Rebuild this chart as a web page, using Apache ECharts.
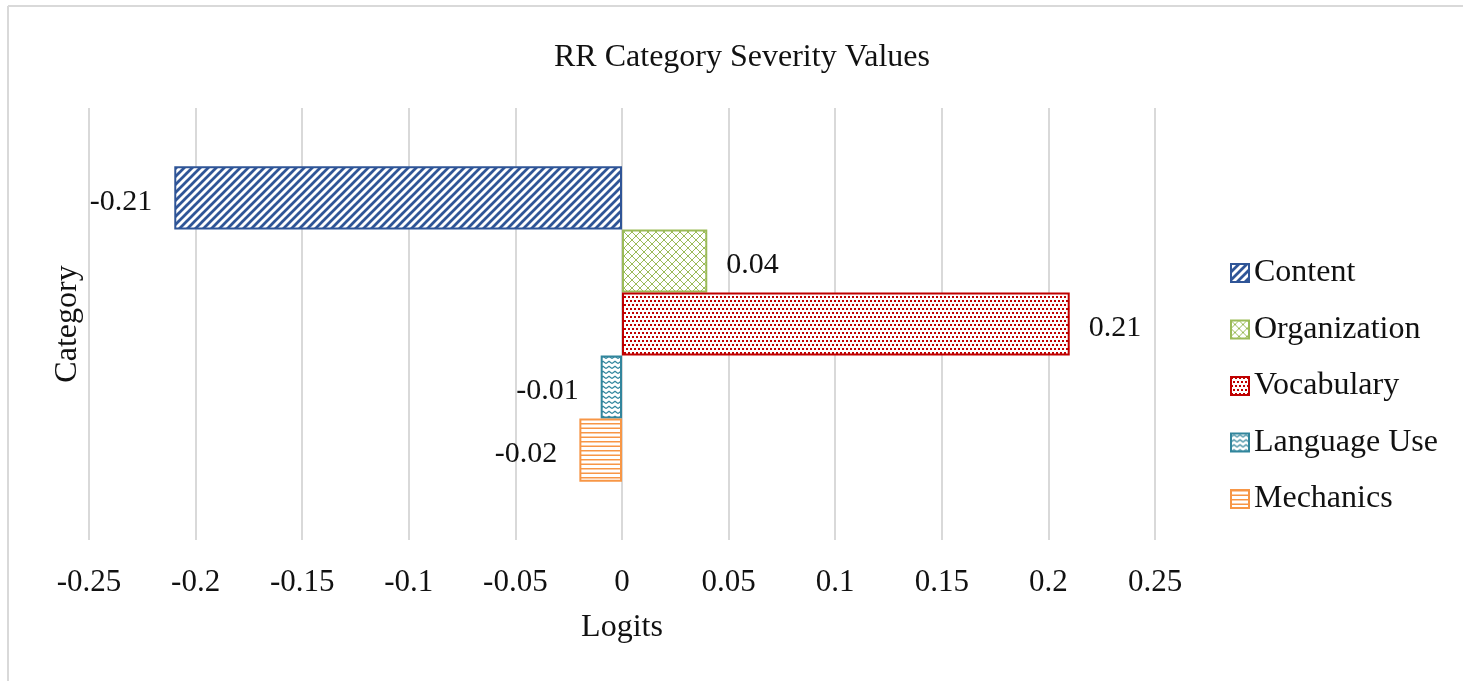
<!DOCTYPE html>
<html>
<head>
<meta charset="utf-8">
<script src="https://cdn.jsdelivr.net/npm/echarts@6/dist/echarts.min.js"></script>
<style>
html,body{margin:0;padding:0;background:#fff;}
#chart{width:1463px;height:681px;}
</style>
</head>
<body>
<div id="chart"></div>
<script>
// ---- data ----
var categories = [''];
var seriesNames = ['Content', 'Organization', 'Vocabulary', 'Language Use', 'Mechanics'];
var contentValues = [-0.21];
var organizationValues = [0.04];
var vocabularyValues = [0.21];
var languageUseValues = [-0.01];
var mechanicsValues = [-0.02];
var xTickLabels = ['-0.25', '-0.2', '-0.15', '-0.1', '-0.05', '0', '0.05', '0.1', '0.15', '0.2', '0.25'];
var xMin = -0.25, xMax = 0.25, xStep = 0.05;

var seriesValues = [contentValues, organizationValues, vocabularyValues, languageUseValues, mechanicsValues];
var seriesColors = ['#2F5597', '#9BBB59', '#C00000', '#31859C', '#F79646'];

function makeCanvas(w, h) {
  var c = document.createElement('canvas');
  c.width = w; c.height = h;
  var ctx = c.getContext('2d');
  ctx.fillStyle = '#ffffff';
  ctx.fillRect(0, 0, w, h);
  return [c, ctx];
}
function patternFor(i) {
  var r, c, ctx, col = seriesColors[i];
  if (i === 0) {
    r = makeCanvas(8, 8); c = r[0]; ctx = r[1];
    ctx.strokeStyle = col; ctx.lineWidth = 2.8;
    ctx.beginPath();
    ctx.moveTo(-2, 10); ctx.lineTo(10, -2);
    ctx.moveTo(-6, 6); ctx.lineTo(6, -6);
    ctx.moveTo(2, 14); ctx.lineTo(14, 2);
    ctx.stroke();
  } else if (i === 1) {
    r = makeCanvas(8, 8); c = r[0]; ctx = r[1];
    ctx.strokeStyle = col; ctx.lineWidth = 1;
    ctx.beginPath();
    ctx.moveTo(0, 0); ctx.lineTo(8, 8);
    ctx.moveTo(8, 0); ctx.lineTo(0, 8);
    ctx.stroke();
  } else if (i === 2) {
    r = makeCanvas(8, 8); c = r[0]; ctx = r[1];
    ctx.fillStyle = col;
    ctx.fillRect(0, 0, 2, 2);
    ctx.fillRect(4, 0, 2, 2);
    ctx.fillRect(2, 4, 2, 2);
    ctx.fillRect(6, 4, 2, 2);
  } else if (i === 3) {
    r = makeCanvas(6, 5); c = r[0]; ctx = r[1];
    ctx.strokeStyle = col; ctx.lineWidth = 1.2;
    ctx.beginPath();
    ctx.moveTo(0, 3.5); ctx.lineTo(3, 1.2); ctx.lineTo(6, 3.5);
    ctx.stroke();
  } else {
    r = makeCanvas(4, 9); c = r[0]; ctx = r[1];
    ctx.fillStyle = col;
    ctx.fillRect(0, 0, 4, 1.5);
    ctx.fillRect(0, 4.5, 4, 1.5);
  }
  return { image: c, repeat: 'repeat' };
}

var FONT = 'Liberation Serif';
var series = seriesNames.map(function (name, i) {
  var v = seriesValues[i][0];
  return {
    name: name,
    type: 'bar',
    data: seriesValues[i],
    barGap: '0%',
    barCategoryGap: '27%',
    itemStyle: { color: patternFor(i), borderColor: seriesColors[i], borderWidth: 2 },
    label: {
      show: true,
      position: v < 0 ? 'left' : 'right',
      distance: v < 0 ? 22 : 19,
      offset: [0, 4],
      formatter: function (p) { return String(p.value); },
      fontFamily: FONT, fontSize: 30, color: '#111'
    },
    emphasis: { disabled: true }
  };
});

var chart = echarts.init(document.getElementById('chart'));
chart.setOption({
  animation: false,
  backgroundColor: '#fff',
  title: {
    text: 'RR Category Severity Values',
    left: 549, top: 37,
    textStyle: { fontFamily: FONT, fontSize: 32, fontWeight: 'normal', color: '#111', lineHeight: 32 }
  },
  legend: {
    orient: 'vertical',
    left: 1225, top: 252,
    icon: 'rect',
    itemWidth: 18, itemHeight: 18,
    itemGap: 24.5,
    textStyle: { fontFamily: FONT, fontSize: 32, color: '#111', lineHeight: 32 },
    data: seriesNames
  },
  graphic: [
    { type: 'line', shape: { x1: 8, y1: 6, x2: 1463, y2: 6 }, style: { stroke: '#d9d9d9', lineWidth: 2 } },
    { type: 'line', shape: { x1: 8, y1: 6, x2: 8, y2: 681 }, style: { stroke: '#d9d9d9', lineWidth: 2 } }
  ],
  grid: { left: 89, right: 308, top: 108, bottom: 141, containLabel: false },
  xAxis: {
    type: 'value',
    min: xMin, max: xMax, interval: xStep,
    axisLine: { show: false }, axisTick: { show: false },
    splitLine: { show: true, lineStyle: { color: '#d9d9d9', width: 2 } },
    axisLabel: {
      margin: 27,
      fontFamily: FONT, fontSize: 31, color: '#111', lineHeight: 31,
      formatter: function (val) {
        var idx = Math.round((val - xMin) / xStep);
        return xTickLabels[idx];
      }
    },
    name: 'Logits', nameLocation: 'middle', nameGap: 72,
    nameTextStyle: { fontFamily: FONT, fontSize: 32, color: '#111', lineHeight: 32 }
  },
  yAxis: {
    type: 'category',
    data: categories,
    inverse: true,
    axisLine: { show: false }, axisTick: { show: false }, axisLabel: { show: false },
    splitLine: { show: false },
    name: 'Category', nameLocation: 'middle', nameGap: 5,
    nameTextStyle: { fontFamily: FONT, fontSize: 32, color: '#111', lineHeight: 32 }
  },
  series: series
});
</script>
</body>
</html>
